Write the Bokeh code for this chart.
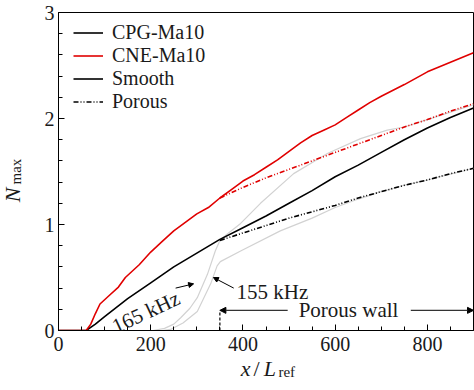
import math
from bokeh.plotting import figure
from bokeh.models import (Range1d, SingleIntervalTicker, Label, Arrow, NormalHead,
                          Legend, LegendItem)
from bokeh.embed import file_html
from bokeh.resources import INLINE

# ---- data ----
cpg_x = [0, 60, 80, 100, 150, 200, 250, 300, 350, 400, 450, 500, 550, 600, 650, 700, 750, 800, 850, 900]
cpg_y = [0, 0, 0.06, 0.13, 0.30, 0.45, 0.60, 0.73, 0.86, 0.97, 1.08, 1.20, 1.32, 1.45, 1.56, 1.68, 1.80, 1.91, 2.01, 2.10]

cne_x = [0, 60, 70, 80, 90, 110, 130, 145, 175, 200, 225, 250, 275, 300, 325, 350, 375, 400, 425, 450,
         475, 500, 525, 550, 575, 600, 625, 650, 675, 700, 750, 800, 850, 900]
cne_y = [0, 0, 0.06, 0.16, 0.25, 0.33, 0.41, 0.50, 0.62, 0.74, 0.84, 0.94, 1.02, 1.10, 1.16, 1.25, 1.33, 1.41,
         1.47, 1.54, 1.61, 1.69, 1.77, 1.84, 1.89, 1.94, 2.01, 2.08, 2.15, 2.21, 2.32, 2.44, 2.53, 2.62]

por_x = [350, 400, 450, 500, 550, 600, 650, 700, 750, 800, 850, 900]
cpg_por_y = [0.85, 0.92, 0.99, 1.06, 1.12, 1.18, 1.25, 1.31, 1.37, 1.42, 1.48, 1.53]
cne_por_y = [1.25, 1.35, 1.44, 1.52, 1.60, 1.68, 1.76, 1.84, 1.92, 1.99, 2.07, 2.14]

f165_x = [205, 230, 250, 265, 285, 301, 323, 340, 350, 366, 395, 438, 510, 583, 655, 713, 750, 800, 850, 900]
f165_y = [0, 0.02, 0.06, 0.12, 0.21, 0.31, 0.53, 0.75, 0.85, 0.91, 1.01, 1.20, 1.48, 1.67, 1.81, 1.89, 1.92, 1.99, 2.06, 2.13]

f155_x = [225, 243, 270, 301, 330, 344, 351, 395, 481, 550, 600, 650, 700, 750, 800, 900]
f155_y = [0, 0.01, 0.07, 0.18, 0.44, 0.61, 0.65, 0.75, 0.94, 1.06, 1.16, 1.24, 1.31, 1.37, 1.42, 1.53]

legend_labels = ["CPG-Ma10", "CNE-Ma10", "Smooth", "Porous"]
wall_start, wall_end, wall_y = 350, 900, 0.19
wall_text_x = 629

FONT = "Liberation Serif"
TXT = "#1a1a1a"
RED = "#e00000"
GRAY = "#d2d2d2"
DASHDOT = "5 2 1 2 1 2"

p = figure(width=474, height=390, frame_width=415, frame_height=318,
           output_backend="svg", toolbar_location=None,
           x_range=Range1d(0, 900), y_range=Range1d(0, 3),
           min_border_left=50, min_border_right=1, min_border_top=12, min_border_bottom=50)
p.xgrid.visible = False
p.ygrid.visible = False
p.outline_line_color = "black"
p.outline_line_width = 1
p.background_fill_color = "white"
p.border_fill_color = "white"

p.xaxis.ticker = SingleIntervalTicker(interval=200, num_minor_ticks=4)
p.yaxis.ticker = SingleIntervalTicker(interval=1, num_minor_ticks=5)
for ax in (p.xaxis[0], p.yaxis[0]):
    ax.major_tick_in = 6
    ax.major_tick_out = 0
    ax.minor_tick_in = 4
    ax.minor_tick_out = 0
    ax.axis_line_color = "black"
    ax.major_tick_line_color = "black"
    ax.minor_tick_line_color = "black"
    ax.major_label_text_font = FONT
    ax.major_label_text_font_size = "20px"
    ax.major_label_text_color = TXT
    ax.major_label_standoff = 6
p.yaxis[0].major_label_standoff = 4

# gray single-frequency curves
p.line(f165_x, f165_y, line_color=GRAY, line_width=1.2)
p.line(f155_x, f155_y, line_color=GRAY, line_width=1.2)

r_cpg = p.line(cpg_x, cpg_y, line_color="black", line_width=1.6)
r_cne = p.line(cne_x, cne_y, line_color=RED, line_width=1.6)
r_cpg_por = p.line(por_x, cpg_por_y, line_color="black", line_width=1.6, line_dash=DASHDOT)
r_cne_por = p.line(por_x, cne_por_y, line_color=RED, line_width=1.6, line_dash=DASHDOT)

# porous wall marker
p.line([wall_start, wall_start], [0, wall_y], line_color="black", line_width=1.2, line_dash="3 2")
p.add_layout(Arrow(end=NormalHead(size=6, fill_color="black", line_color="black"),
                   x_start=497, y_start=wall_y, x_end=wall_start, y_end=wall_y,
                   line_color="#333333", line_width=1.2))
p.add_layout(Arrow(end=NormalHead(size=6, fill_color="black", line_color="black"),
                   x_start=764, y_start=wall_y, x_end=wall_end, y_end=wall_y,
                   line_color="#333333", line_width=1.2))
p.add_layout(Label(x=wall_text_x, y=wall_y, text="Porous wall", text_align="center",
                   text_baseline="middle", text_font=FONT, text_font_size="21px",
                   text_color=TXT))

# frequency annotations
p.add_layout(Label(x=119, y=0.03, text="165 kHz", angle=math.radians(25),
                   text_align="left", text_baseline="alphabetic",
                   text_font=FONT, text_font_size="21px", text_color=TXT))
p.add_layout(Arrow(end=NormalHead(size=5, fill_color="black", line_color="black"),
                   x_start=254, y_start=0.40, x_end=293, y_end=0.44,
                   line_color="black", line_width=1.0))
p.add_layout(Label(x=386, y=0.36, text="155 kHz", text_align="left", text_baseline="alphabetic",
                   text_font=FONT, text_font_size="21px", text_color=TXT))
p.add_layout(Arrow(end=NormalHead(size=5, fill_color="black", line_color="black"),
                   x_start=380, y_start=0.40, x_end=336, y_end=0.50,
                   line_color="black", line_width=1.0))

# axis titles built from text pieces, placed in side panels so they are not clipped
def side_label(x, y, text, size, italic=False, angle=0.0):
    return Label(x=x, y=y, text=text, angle=angle,
                 text_align="left", text_baseline="alphabetic", text_font=FONT,
                 text_font_style="italic" if italic else "normal",
                 text_font_size=size, text_color=TXT)

p.add_layout(side_label(-100, 1.21, "N", "22px", italic=True, angle=math.pi / 2), "left")
p.add_layout(side_label(-93, 1.377, "max", "15px", angle=math.pi / 2), "left")
p.add_layout(side_label(395, -0.36, "x", "22px", italic=True), "below")
p.add_layout(side_label(423, -0.36, "/", "22px"), "below")
p.add_layout(side_label(445, -0.36, "L", "22px", italic=True), "below")
p.add_layout(side_label(477, -0.39, "ref", "15px"), "below")

legend = Legend(items=[
    LegendItem(label=legend_labels[0], renderers=[r_cpg]),
    LegendItem(label=legend_labels[1], renderers=[r_cne]),
    LegendItem(label=legend_labels[2], renderers=[r_cpg]),
    LegendItem(label=legend_labels[3], renderers=[r_cpg_por]),
], location=(15, 217.5))
legend.margin = 0
legend.padding = 0
legend.spacing = 0
legend.glyph_width = 30
legend.glyph_height = 23
legend.label_height = 23
legend.label_standoff = 9
legend.label_text_font = FONT
legend.label_text_font_size = "20px"
legend.label_text_color = TXT
legend.border_line_alpha = 0
legend.background_fill_alpha = 0
p.add_layout(legend, "center")

open("out.html", "w").write(file_html(p, INLINE))
